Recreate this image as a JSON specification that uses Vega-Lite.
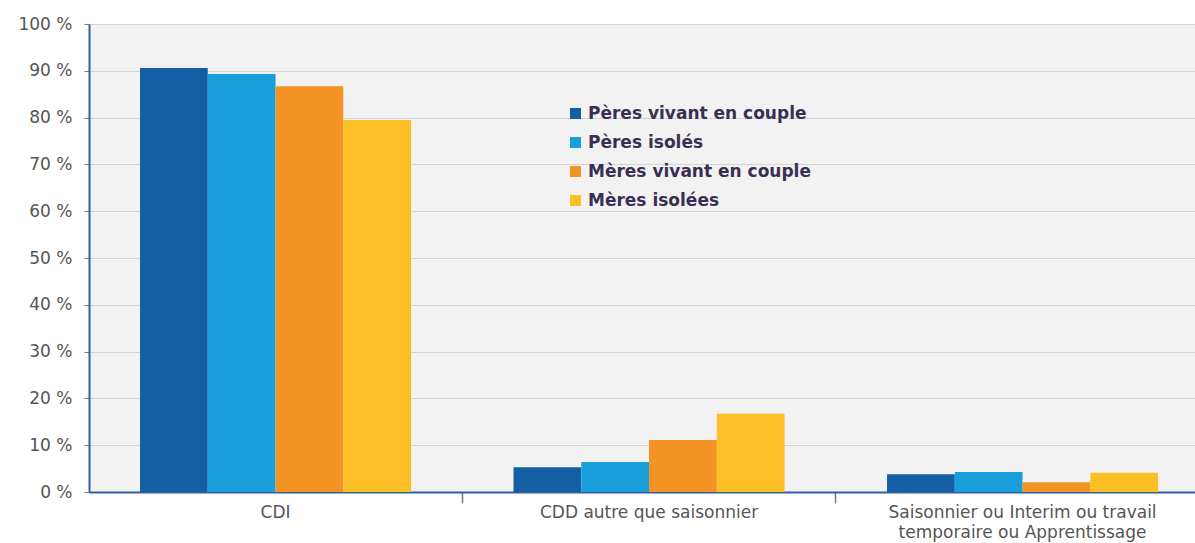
{
  "$schema": "https://vega.github.io/schema/vega-lite/v6.json",
  "width": 1106,
  "height": 468,
  "autosize": {"type": "none"},
  "padding": {"left": 89, "top": 24, "right": 0, "bottom": 51},
  "background": "#ffffff",
  "config": {
    "view": {"fill": "#f2f2f2", "stroke": null},
    "font": "DejaVu Sans"
  },
  "data": {
    "values": [
      {"contrat": "CDI", "serie": "Pères vivant en couple", "valeur": 90.6},
      {"contrat": "CDI", "serie": "Pères isolés", "valeur": 89.3},
      {"contrat": "CDI", "serie": "Mères vivant en couple", "valeur": 86.7},
      {"contrat": "CDI", "serie": "Mères isolées", "valeur": 79.5},
      {"contrat": "CDD autre que saisonnier", "serie": "Pères vivant en couple", "valeur": 5.3},
      {"contrat": "CDD autre que saisonnier", "serie": "Pères isolés", "valeur": 6.4},
      {"contrat": "CDD autre que saisonnier", "serie": "Mères vivant en couple", "valeur": 11.1},
      {"contrat": "CDD autre que saisonnier", "serie": "Mères isolées", "valeur": 16.7},
      {"contrat": "Saisonnier ou Interim ou travail temporaire ou Apprentissage", "serie": "Pères vivant en couple", "valeur": 3.8},
      {"contrat": "Saisonnier ou Interim ou travail temporaire ou Apprentissage", "serie": "Pères isolés", "valeur": 4.3},
      {"contrat": "Saisonnier ou Interim ou travail temporaire ou Apprentissage", "serie": "Mères vivant en couple", "valeur": 2.1},
      {"contrat": "Saisonnier ou Interim ou travail temporaire ou Apprentissage", "serie": "Mères isolées", "valeur": 4.1}
    ]
  },
  "mark": {"type": "bar"},
  "encoding": {
    "x": {
      "field": "contrat",
      "type": "nominal",
      "sort": null,
      "scale": {"paddingInner": 0.2744, "paddingOuter": 0.1177, "align": 0.58},
      "axis": {
        "title": null,
        "labelAngle": 0,
        "bandPosition": -0.189,
        "domainColor": "#2e5ea6",
        "domainWidth": 2,
        "ticks": true,
        "tickColor": "#7a7a7a",
        "tickOpacity": {"condition": {"test": "datum.value == 'CDI'", "value": 0}, "value": 1},
        "tickSize": 11,
        "tickWidth": 1.5,
        "labelPadding": 1,
        "labelFontSize": 17,
        "labelColor": "#555555",
        "labelLineHeight": 20,
        "labelLimit": 400,
        "labelExpr": "datum.label == 'Saisonnier ou Interim ou travail temporaire ou Apprentissage' ? ['Saisonnier ou Interim ou travail', 'temporaire ou Apprentissage'] : datum.label"
      }
    },
    "xOffset": {
      "field": "serie",
      "type": "nominal",
      "sort": ["Pères vivant en couple", "Pères isolés", "Mères vivant en couple", "Mères isolées"],
      "scale": {"paddingInner": 0, "paddingOuter": 0}
    },
    "y": {
      "field": "valeur",
      "type": "quantitative",
      "scale": {"domain": [0, 100], "nice": false},
      "axis": {
        "title": null,
        "values": [0, 10, 20, 30, 40, 50, 60, 70, 80, 90, 100],
        "labelExpr": "datum.value + ' %'",
        "domainColor": "#2e5ea6",
        "domainWidth": 2,
        "tickColor": "#7a7a7a",
        "tickSize": 5,
        "labelPadding": 12,
        "labelFontSize": 17,
        "labelColor": "#555555",
        "gridColor": "#d4d4d4",
        "gridWidth": 1.2
      }
    },
    "color": {
      "field": "serie",
      "type": "nominal",
      "scale": {
        "domain": ["Pères vivant en couple", "Pères isolés", "Mères vivant en couple", "Mères isolées"],
        "range": ["#145ea4", "#189fdb", "#f39324", "#fdbf26"]
      },
      "legend": {
        "title": null,
        "orient": "none",
        "legendX": 478,
        "legendY": 81,
        "symbolType": "square",
        "symbolSize": 121,
        "symbolStrokeWidth": 0,
        "labelFontSize": 17,
        "labelFontWeight": "bold",
        "labelColor": "#3a2f52",
        "labelOffset": 4,
        "rowPadding": 11,
        "labelLimit": 400
      }
    }
  }
}
